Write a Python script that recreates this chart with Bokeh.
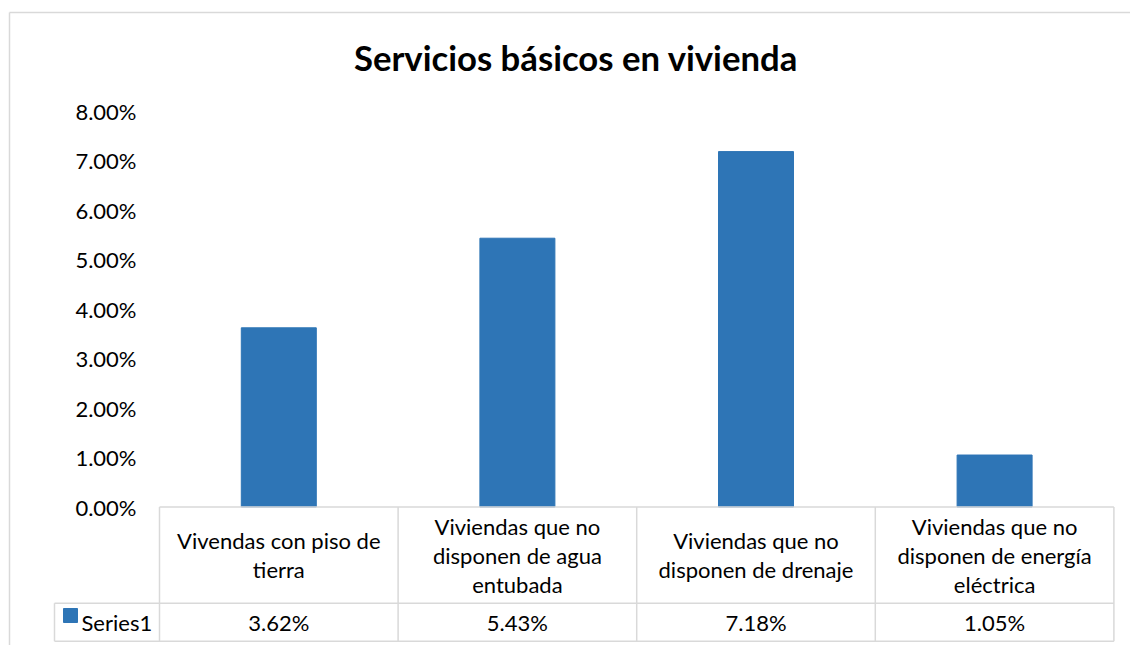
from bokeh.plotting import figure
from bokeh.models import Range1d
from bokeh.core.properties import value
from bokeh.embed import file_html
from bokeh.resources import INLINE

# ---------------- data ----------------
title_text = "Servicios básicos en vivienda"
categories = [
    "Vivendas con piso de\ntierra",
    "Viviendas que no\ndisponen de agua\nentubada",
    "Viviendas que no\ndisponen de drenaje",
    "Viviendas que no\ndisponen de energía\neléctrica",
]
series_name = "Series1"
values = [3.62, 5.43, 7.18, 1.05]
value_labels = ["3.62%", "5.43%", "7.18%", "1.05%"]
y_ticks = [0, 1, 2, 3, 4, 5, 6, 7, 8]
y_tick_labels = ["0.00%", "1.00%", "2.00%", "3.00%", "4.00%",
                 "5.00%", "6.00%", "7.00%", "8.00%"]

# ---------------- layout ----------------
W, H = 1130, 645
MARGIN = 0
PX_PER_COL = 238.6
PX_PER_PCT = 49.5
FIRST_CENTER_PX = 278.3
ZERO_PX = 506.5

x_start = -(FIRST_CENTER_PX - MARGIN) / PX_PER_COL
x_end = x_start + W / PX_PER_COL
y_end = (ZERO_PX - MARGIN) / PX_PER_PCT
y_start = y_end - H / PX_PER_PCT


def xd(px):
    return x_start + (px - MARGIN) / PX_PER_COL


def yd(py):
    return y_end - (py - MARGIN) / PX_PER_PCT


FONT = value("Lato")
BODY = "22px"
TXT = "#000000"
GRID = "#d9d9d9"
BAR = "#2E75B6"

p = figure(width=W, height=H, x_range=Range1d(x_start, x_end),
           y_range=Range1d(y_start, y_end), output_backend="svg",
           toolbar_location=None, min_border=0,
           x_axis_location=None, y_axis_location=None)
p.grid.visible = False
p.outline_line_color = None
p.background_fill_color = "white"
p.border_fill_color = "white"

n = len(categories)
xs = list(range(n))

# outer chart border (top and left visible)
p.segment(x0=[xd(9), xd(9)], y0=[yd(12), yd(12)],
          x1=[x_end, xd(9)], y1=[yd(12), y_start],
          line_color=GRID, line_width=1.5)

# bars
p.vbar(x=xs, top=values, bottom=0, width=75 / PX_PER_COL,
       fill_color=BAR, line_color=BAR)

# data table grid
hdr_bot = yd(602.7)
tbl_bot = yd(640.7)
leg_left = xd(54)
edges = [i - 0.5 for i in range(n + 1)]
x0s = [edges[0], leg_left, leg_left, leg_left] + edges
y0s = [0, hdr_bot, tbl_bot, hdr_bot] + [0] * len(edges)
x1s = [edges[-1], edges[-1], edges[-1], leg_left] + edges
y1s = [0, hdr_bot, tbl_bot, tbl_bot] + [tbl_bot] * len(edges)
p.segment(x0=x0s, y0=y0s, x1=x1s, y1=y1s, line_color=GRID, line_width=1.5)

# y tick labels
p.text(x=[xd(136)] * len(y_ticks), y=y_ticks, text=y_tick_labels,
       text_align="right", text_baseline="middle", text_font=FONT,
       text_font_size=BODY, text_color=TXT)

# category labels (wrapped)
cx, cy, ct, co = [], [], [], []
hdr_mid = (0 + hdr_bot) / 2
for i, cat in enumerate(categories):
    lines = cat.split("\n")
    k = len(lines)
    for j, ln in enumerate(lines):
        cx.append(i)
        cy.append(hdr_mid)
        ct.append(ln)
        co.append((j - (k - 1) / 2) * 29)
p.text(x=cx, y=cy, text=ct, y_offset=co, text_align="center",
       text_baseline="middle", text_font=FONT, text_font_size=BODY,
       text_color=TXT)

# value row
row_mid = (hdr_bot + tbl_bot) / 2
p.text(x=xs, y=[row_mid] * n, text=value_labels, text_align="center",
       text_baseline="middle", text_font=FONT, text_font_size=BODY,
       text_color=TXT)

# legend key in table
p.scatter(x=[xd(70)], y=[yd(615)], marker="square", size=14,
          fill_color=BAR, line_color=BAR)
p.text(x=[xd(81)], y=[row_mid], text=[series_name], text_align="left",
       text_baseline="middle", text_font=FONT, text_font_size=BODY,
       text_color=TXT)

# title
p.text(x=[xd(575.5)], y=[yd(57)], text=[title_text], text_align="center",
       text_baseline="middle", text_font=FONT, text_font_size="34.7px",
       text_font_style="bold", text_color=TXT)

open("out.html", "w").write(file_html(p, INLINE))
